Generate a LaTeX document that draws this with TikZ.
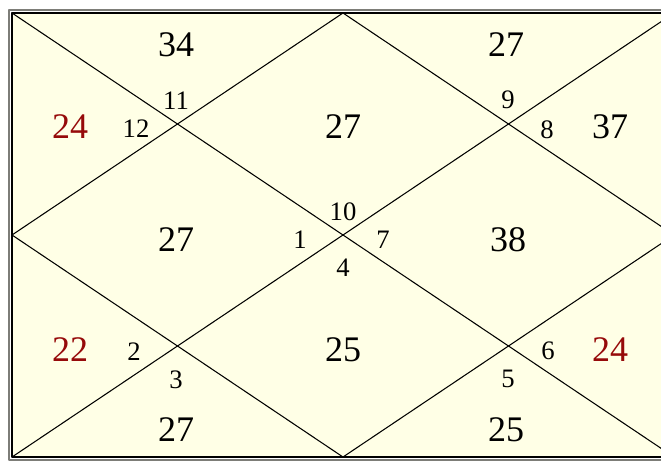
\documentclass[tikz,border=0pt]{standalone}
\usepackage{fontspec}
\setmainfont{Liberation Serif}
\definecolor{chartbg}{RGB}{255,255,230}
\definecolor{signred}{RGB}{150,10,10}
\definecolor{framegray}{RGB}{125,125,120}
\begin{document}
\begin{tikzpicture}[x=0.75pt, y=-0.75pt, line cap=round, line join=round,
  big/.style={font=\fontsize{27}{27}\selectfont, inner sep=0pt},
  small/.style={font=\fontsize{20}{20}\selectfont, inner sep=0pt}]
\useasboundingbox (0,0) rectangle (661,461);
\clip (0,0) rectangle (661,461);
% Chart edges (the right edge lies past the picture)
\def\xl{12}
\def\xr{674}
\def\yt{13}
\def\yb{457}
\coordinate (TL) at (\xl,\yt);
\coordinate (TR) at (\xr,\yt);
\coordinate (BL) at (\xl,\yb);
\coordinate (BR) at (\xr,\yb);
% Midpoints of the sides
\coordinate (T) at ({(\xl+\xr)/2},\yt);
\coordinate (B) at ({(\xl+\xr)/2},\yb);
\coordinate (L) at (\xl,{(\yt+\yb)/2});
\coordinate (R) at (\xr,{(\yt+\yb)/2});
% Background and double frame
\fill[white] (0,0) rectangle (661,461);
\fill[chartbg] (TL) rectangle (BR);
\draw[framegray, line width=1.5pt] (\xl-3,\yt-3.5) rectangle (\xr+3,\yb+3);
\draw[line width=1pt] (TL) rectangle (BR);
% Diagonals
\draw[line width=0.8pt] (TL) -- (BR);
\draw[line width=0.8pt] (TR) -- (BL);
% Diamond
\draw[line width=0.8pt] (T) -- (R) -- (B) -- (L) -- cycle;
% House totals
\foreach \p/\t/\n in {(176,45)/34/h1, (506,45)/27/h2, (343,127)/27/h3,
  (176,240)/27/h4, (508,240)/38/h5, (343,350)/25/h6,
  (176,430)/27/h7, (506,430)/25/h8, (610,127)/37/h9}
  \node[big] (\n) at \p {\t};
\foreach \p/\t/\n in {(70,127)/24/r1, (70,350)/22/r2, (610,350)/24/r3}
  \node[big, signred] (\n) at \p {\t};
% Sign numbers
\foreach \p/\t/\n in {(176,101)/11/s11, (136,129)/12/s12, (508,100)/9/s9,
  (547,130)/8/s8, (343,212)/10/s10, (300,240)/1/s1, (383,240)/7/s7,
  (343,268)/4/s4, (134,352)/2/s2, (176,380)/3/s3, (548,351)/6/s6,
  (508,379)/5/s5}
  \node[small] (\n) at \p {\t};
\end{tikzpicture}
\end{document}
